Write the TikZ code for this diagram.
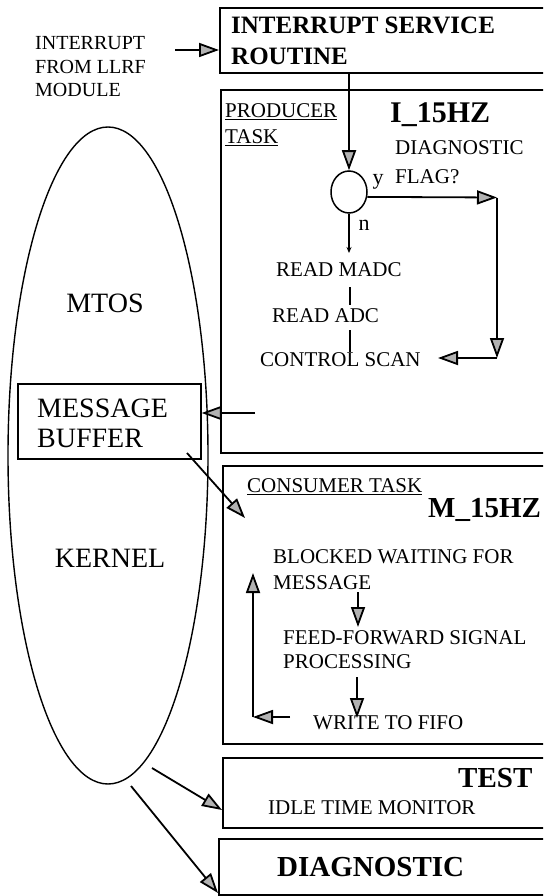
\documentclass[tikz,border=0pt]{standalone}
\usepackage{fontspec}
\setmainfont{Liberation Serif}
\usetikzlibrary{arrows.meta,shapes.geometric}
\begin{document}
\begin{tikzpicture}[x=1pt,y=-1pt,
  box/.style={draw, line width=1.7pt, rectangle, inner sep=0pt, anchor=north west},
  txt/.style={inner sep=0pt, anchor=west, font=\fontsize{21}{24}\selectfont},
  big/.style={inner sep=0pt, font=\fontsize{28}{32}\selectfont},
  ttl/.style={inner sep=0pt, anchor=west, font=\fontsize{29}{33}\selectfont\bfseries},
  conn/.style={line width=1.8pt, -{Triangle[length=20pt,width=14pt,fill=gray!60]}},
  small/.style={line width=1.4pt, -{Stealth[length=6pt,width=5pt]}},
  plain/.style={line width=1.4pt},
]
\useasboundingbox (0,0) rectangle (543,896);
\clip (0,0) rectangle (543,896);

% boxes
\node[box, minimum width=330pt, minimum height=65pt] (isr) at (219,7) {};
\node[box, minimum width=330pt, minimum height=363pt] (prod) at (220,89) {};
\node[box, minimum width=330pt, minimum height=278pt] (cons) at (222,465) {};
\node[box, minimum width=330pt, minimum height=70pt] (test) at (222,757) {};
\node[box, minimum width=330pt, minimum height=56pt] (diag) at (218,838) {};
\node[box, minimum width=183pt, minimum height=75pt] (buf) at (17,383) {};
\node[draw, ellipse, line width=1.4pt, minimum width=200pt, minimum height=657pt, inner sep=0pt] (os) at (108,455.5) {};
\node[draw, ellipse, line width=1.5pt, minimum width=36pt, minimum height=42pt, inner sep=0pt] (dec) at (349,192) {};

% texts
\node[txt, font=\fontsize{20}{24}\selectfont] (int1) at (35,43) {INTERRUPT};
\node[txt, font=\fontsize{20}{24}\selectfont] (int2) at (35,67) {FROM LLRF};
\node[txt, font=\fontsize{20}{24}\selectfont] (int3) at (35,90) {MODULE};
\node[txt, font=\fontsize{25}{28}\selectfont\bfseries] (isr1) at (231,25) {INTERRUPT SERVICE};
\node[txt, font=\fontsize{25}{28}\selectfont\bfseries] (isr2) at (231,56) {ROUTINE};

\node[txt] (pr1) at (225,112) {\underline{PRODUCER}};
\node[txt] (pr2) at (225,138) {\underline{TASK}};
\node[ttl, font=\fontsize{30}{33}\selectfont\bfseries] (i15) at (390,115) {I\_15HZ};
\node[txt] (df1) at (395,148) {DIAGNOSTIC};
\node[txt] (df2) at (395,177) {FLAG?};
\node[inner sep=0pt, font=\fontsize{22}{24}\selectfont] (ylab) at (378,182) {y};
\node[inner sep=0pt, font=\fontsize{22}{24}\selectfont] (nlab) at (364,225) {n};
\node[txt] (madc) at (276,270) {READ MADC};
\node[txt] (adc) at (272,316) {READ ADC};
\node[txt] (cscan) at (260,360) {CONTROL SCAN};

\node[big, anchor=west] (mb1) at (37,408) {MESSAGE};
\node[big, anchor=west] (mb2) at (37,438) {BUFFER};
\node[big] (mtos) at (105,303) {MTOS};
\node[big] (kern) at (110,558) {KERNEL};

\node[txt] (ct) at (247,487) {\underline{CONSUMER TASK}};
\node[ttl] (m15) at (428,510) {M\_15HZ};
\node[txt] (bw1) at (273,557) {BLOCKED WAITING FOR};
\node[txt] (bw2) at (273,583) {MESSAGE};
\node[txt] (ff1) at (283,638) {FEED-FORWARD SIGNAL};
\node[txt] (ff2) at (283,662) {PROCESSING};
\node[txt] (wf) at (313,723) {WRITE TO FIFO};

\node[ttl] (tst) at (458,778) {TEST};
\node[txt] (idle) at (268,808) {IDLE TIME MONITOR};
\node[ttl] (dg) at (277,867) {DIAGNOSTIC};

% coordinates for connector ends
\coordinate (intsrc) at (175,50);
\coordinate (yr) at (497,197.5);
\coordinate (yd) at (497,358);
\coordinate (ydl) at (438,358);
\coordinate (nd) at (349,253);
\coordinate (l1a) at (350,287);
\coordinate (l1b) at (350,305);
\coordinate (l2a) at (350,330);
\coordinate (l2b) at (350,352);
\coordinate (prodout) at (255,413);
\coordinate (bufout) at (187,453);
\coordinate (consin) at (245,518);
\coordinate (m1a) at (358,592);
\coordinate (m1b) at (358,627);
\coordinate (m2a) at (357,677);
\coordinate (m2b) at (357,718);
\coordinate (wfl) at (290,717);
\coordinate (lpc) at (253,717);
\coordinate (lpt) at (253,573);
\coordinate (osa) at (152,768);
\coordinate (osb) at (131,786);
\coordinate (testin) at (222,810);
\coordinate (diagin) at (218,893);

% connectors
\draw[conn] (intsrc) -- (isr.west |- intsrc);
\draw[conn] (isr.south -| dec.north) -- (dec.north);
\draw[conn] (dec.-15) -- (yr);
\draw[conn] (yr) -- (yd);
\draw[conn] (yd) -- (ydl);
\draw[small] (dec.south) -- (nd);
\draw[plain] (l1a) -- (l1b);
\draw[plain] (l2a) -- (l2b);
\draw[conn] (prodout) -- (buf.east |- prodout);
\draw[conn] (bufout) -- (consin);
\draw[conn] (m1a) -- (m1b);
\draw[conn] (m2a) -- (m2b);
\draw[conn] (wfl) -- (lpc);
\draw[conn] (lpc) -- (lpt);
\draw[conn] (osa) -- (testin);
\draw[conn] (osb) -- (diagin);
\end{tikzpicture}
\end{document}
